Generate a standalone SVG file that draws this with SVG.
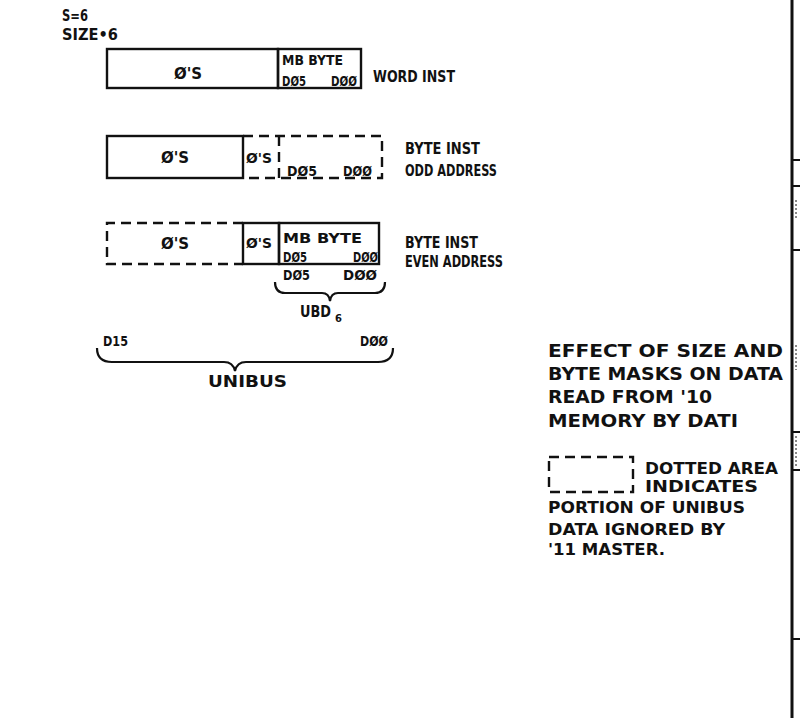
<svg xmlns="http://www.w3.org/2000/svg" width="800" height="718" viewBox="0 0 800 718">
<style>
text{font-family:"DejaVu Sans","Liberation Sans",sans-serif;font-weight:bold;fill:#111;}
.t{font-size:15px;}
.s{font-size:13.5px;}
.b{font-size:17.5px;}
.box{fill:none;stroke:#111;stroke-width:2.4;}
.dash{fill:none;stroke:#111;stroke-width:2.4;stroke-dasharray:10 6;}
.br{fill:none;stroke:#111;stroke-width:2.2;}
</style>
<rect width="800" height="718" fill="#fff"/>
<g id="header">
<text class="t" x="62" y="21" textLength="26" lengthAdjust="spacingAndGlyphs">S=6</text>
<text class="t" x="62" y="40" textLength="56" lengthAdjust="spacingAndGlyphs">SIZE•6</text>
</g>
<g id="word-inst">
<rect class="box" x="107" y="49" width="171" height="39"/>
<rect class="box" x="278" y="49" width="83" height="39"/>
<text class="t" x="188" y="79" text-anchor="middle">Ø'S</text>
<text class="s" x="282" y="65" textLength="61" lengthAdjust="spacingAndGlyphs">MB BYTE</text>
<text class="s" x="282" y="86" textLength="24" lengthAdjust="spacingAndGlyphs">DØ5</text>
<text class="s" x="331" y="86" textLength="26" lengthAdjust="spacingAndGlyphs">DØØ</text>
<text class="t" x="373" y="82" textLength="82" lengthAdjust="spacingAndGlyphs">WORD INST</text>
</g>
<g id="byte-odd">
<rect class="box" x="107" y="136" width="136" height="42"/>
<path class="dash" d="M243,136 H382 V178 H243"/>
<line class="dash" x1="279" y1="136" x2="279" y2="178"/>
<text class="t" x="175" y="163" text-anchor="middle">Ø'S</text>
<text class="s" x="246" y="163" textLength="26" lengthAdjust="spacingAndGlyphs">Ø'S</text>
<text class="s" x="287" y="176" textLength="30" lengthAdjust="spacingAndGlyphs">DØ5</text>
<text class="s" x="343" y="176" textLength="29" lengthAdjust="spacingAndGlyphs">DØØ</text>
<text class="t" x="405" y="154" textLength="75" lengthAdjust="spacingAndGlyphs">BYTE INST</text>
<text class="t" x="405" y="176" textLength="92" lengthAdjust="spacingAndGlyphs">ODD ADDRESS</text>
</g>
<g id="byte-even">
<path class="dash" d="M243,223 H107 V264 H243"/>
<rect class="box" x="243" y="223" width="36" height="41"/>
<rect class="box" x="279" y="223" width="100" height="41"/>
<text class="t" x="175" y="249" text-anchor="middle">Ø'S</text>
<text class="s" x="246" y="248" textLength="26" lengthAdjust="spacingAndGlyphs">Ø'S</text>
<text class="s" x="283" y="243" textLength="79" lengthAdjust="spacingAndGlyphs">MB BYTE</text>
<text class="s" x="283" y="262" textLength="24" lengthAdjust="spacingAndGlyphs">DØ5</text>
<text class="s" x="353" y="262" textLength="25" lengthAdjust="spacingAndGlyphs">DØØ</text>
<text class="t" x="405" y="248" textLength="73" lengthAdjust="spacingAndGlyphs">BYTE INST</text>
<text class="t" x="405" y="267" textLength="98" lengthAdjust="spacingAndGlyphs">EVEN ADDRESS</text>
</g>
<g id="ubd">
<text class="s" x="283" y="280" textLength="27" lengthAdjust="spacingAndGlyphs">DØ5</text>
<text class="s" x="343" y="280" textLength="34" lengthAdjust="spacingAndGlyphs">DØØ</text>
<text class="t" x="300" y="317" textLength="31" lengthAdjust="spacingAndGlyphs">UBD</text>
<text x="335" y="322" font-size="10">6</text>
</g>
<g id="unibus">
<text class="s" x="103" y="346" textLength="25" lengthAdjust="spacingAndGlyphs">D15</text>
<text class="s" x="360" y="346" textLength="28" lengthAdjust="spacingAndGlyphs">DØØ</text>
<text class="t" x="208" y="387" textLength="79" lengthAdjust="spacingAndGlyphs">UNIBUS</text>
</g>
<g id="connectors">
<path class="br" d="M275,282 Q275,293 285,293 L322,293 Q329,293 330,301 Q331,293 338,293 L375,293 Q385,293 385,282"/>
<path class="br" d="M97,348 Q97,362 112,362 L224,362 Q233,362 235,371 Q237,362 246,362 L378,362 Q393,362 393,348"/>
</g>
<g id="title">
<text class="b" x="548" y="357" textLength="235" lengthAdjust="spacingAndGlyphs">EFFECT OF SIZE AND</text>
<text class="b" x="548" y="380" textLength="235" lengthAdjust="spacingAndGlyphs">BYTE MASKS ON DATA</text>
<text class="b" x="548" y="403" textLength="164" lengthAdjust="spacingAndGlyphs">READ FROM '10</text>
<text class="b" x="548" y="427" textLength="190" lengthAdjust="spacingAndGlyphs">MEMORY BY DATI</text>
</g>
<g id="legend">
<rect class="dash" x="549" y="457" width="84" height="35"/>
<text class="t" x="645" y="474" textLength="133" lengthAdjust="spacingAndGlyphs">DOTTED AREA</text>
<text class="t" x="645" y="492" textLength="113" lengthAdjust="spacingAndGlyphs">INDICATES</text>
<text class="t" x="548" y="513" textLength="197" lengthAdjust="spacingAndGlyphs">PORTION OF UNIBUS</text>
<text class="t" x="548" y="535" textLength="177" lengthAdjust="spacingAndGlyphs">DATA IGNORED BY</text>
<text class="t" x="548" y="555" textLength="117" lengthAdjust="spacingAndGlyphs">'11 MASTER.</text>
</g>
<g id="border">
<line x1="792" y1="0" x2="792" y2="718" stroke="#111" stroke-width="3"/>
<line x1="792" y1="160" x2="800" y2="160" stroke="#111" stroke-width="2"/>
<line x1="792" y1="186" x2="800" y2="186" stroke="#111" stroke-width="2"/>
<line x1="792" y1="250" x2="800" y2="250" stroke="#111" stroke-width="2"/>
<line x1="792" y1="432" x2="800" y2="432" stroke="#111" stroke-width="2"/>
<line x1="792" y1="470" x2="800" y2="470" stroke="#111" stroke-width="2"/>
<line x1="796" y1="436" x2="796" y2="466" stroke="#111" stroke-width="1" stroke-dasharray="2 2"/>
<line x1="796" y1="345" x2="796" y2="370" stroke="#111" stroke-width="1" stroke-dasharray="2 2"/>
<line x1="796" y1="200" x2="796" y2="218" stroke="#111" stroke-width="1" stroke-dasharray="2 2"/>
<line x1="792" y1="639" x2="800" y2="639" stroke="#111" stroke-width="2"/>
</g>
</svg>
